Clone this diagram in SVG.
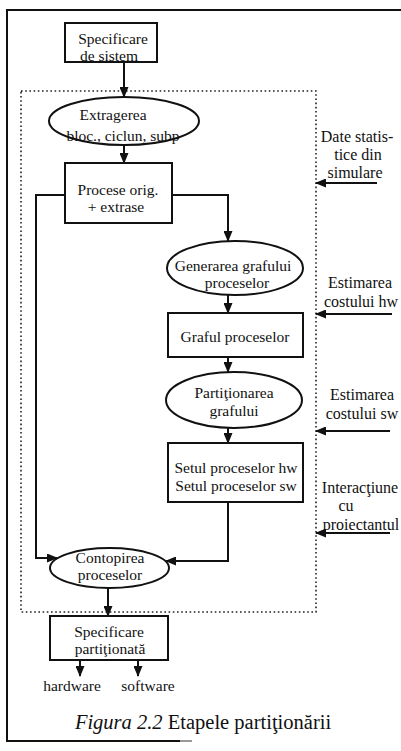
<svg xmlns="http://www.w3.org/2000/svg" width="401" height="751" viewBox="0 0 401 751">
  <style>
    .t { font-family: "Liberation Serif", "Times New Roman", serif; font-size: 15.5px; fill: #111; text-anchor: middle; }
    .side { font-family: "Liberation Serif", "Times New Roman", serif; font-size: 16px; fill: #111; text-anchor: middle; }
    .cap { font-family: "Liberation Serif", "Times New Roman", serif; font-size: 20.5px; fill: #111; text-anchor: middle; }
    .shape { fill: #fff; stroke: #111; stroke-width: 2; }
    .wire { fill: none; stroke: #111; stroke-width: 2; }
    .dots { fill: none; stroke: #222; stroke-width: 1.6; stroke-dasharray: 1.6 2.6; }
    .frame { fill: none; stroke: #111; stroke-width: 2; }
  </style>
  <defs>
    <marker id="arrow" markerUnits="userSpaceOnUse" markerWidth="11" markerHeight="9" refX="10" refY="4.5" orient="auto">
      <path d="M0,0 L11,4.5 L0,9 z" fill="#111"/>
    </marker>
  </defs>

  <rect width="401" height="751" fill="#fff"/>

  <!-- page frame (open on the right) -->
  <polyline class="frame" points="401,10 7,10 7,741 180,741"/>
  <line x1="180" y1="741" x2="192" y2="741" stroke="#999" stroke-width="2"/>

  <!-- dotted boundary of the partitioning stage -->
  <rect id="boundary" class="dots" x="21" y="91" width="295" height="521"/>

  <!-- connectors -->
  <g id="connectors">
    <line class="wire" x1="124" y1="62" x2="124" y2="97" marker-end="url(#arrow)"/>
    <line class="wire" x1="124" y1="145" x2="124" y2="163" marker-end="url(#arrow)"/>
    <polyline class="wire" points="65,195 36,195 36,558 57,558" marker-end="url(#arrow)"/>
    <polyline class="wire" points="172,195 228,195 228,241" marker-end="url(#arrow)"/>
    <line class="wire" x1="228" y1="295" x2="228" y2="313" marker-end="url(#arrow)"/>
    <line class="wire" x1="228" y1="357" x2="228" y2="372" marker-end="url(#arrow)"/>
    <line class="wire" x1="228" y1="428" x2="228" y2="443" marker-end="url(#arrow)"/>
    <polyline class="wire" points="228,502 228,561 166,561" marker-end="url(#arrow)"/>
    <line class="wire" x1="108" y1="588" x2="108" y2="616" marker-end="url(#arrow)"/>
    <line class="wire" x1="80" y1="660" x2="80" y2="676" marker-end="url(#arrow)"/>
    <line class="wire" x1="138" y1="660" x2="138" y2="676" marker-end="url(#arrow)"/>
    <line class="wire" x1="377" y1="183" x2="316" y2="183" marker-end="url(#arrow)"/>
    <line class="wire" x1="392" y1="314" x2="316" y2="314" marker-end="url(#arrow)"/>
    <line class="wire" x1="390" y1="431" x2="316" y2="431" marker-end="url(#arrow)"/>
    <line class="wire" x1="390" y1="533" x2="316" y2="533" marker-end="url(#arrow)"/>
  </g>

  <!-- nodes -->
  <g id="spec-sistem">
    <rect class="shape" x="65" y="23" width="92" height="39"/>
    <text class="t" x="113" y="44">Specificare</text>
    <text class="t" x="109" y="60.5">de sistem</text>
  </g>

  <g id="extragerea">
    <ellipse class="shape" cx="124" cy="121" rx="75" ry="24"/>
    <text class="t" x="113" y="120">Extragerea</text>
    <text class="t" x="123" y="141">bloc., ciclun, subp</text>
  </g>

  <g id="procese">
    <rect class="shape" x="65" y="163" width="107" height="60"/>
    <text class="t" x="118" y="195">Procese  orig.</text>
    <text class="t" x="116" y="212">+ extrase</text>
  </g>

  <g id="generarea">
    <ellipse class="shape" cx="235" cy="268" rx="68" ry="27"/>
    <text class="t" x="233" y="271">Generarea grafului</text>
    <text class="t" x="237" y="288">proceselor</text>
  </g>

  <g id="graful">
    <rect class="shape" x="168" y="313" width="135" height="44"/>
    <text class="t" x="235" y="342">Graful proceselor</text>
  </g>

  <g id="partitionarea">
    <ellipse class="shape" cx="234" cy="400" rx="68" ry="28"/>
    <text class="t" x="234" y="398">Partiţionarea</text>
    <text class="t" x="234" y="416">grafului</text>
  </g>

  <g id="setul">
    <rect class="shape" x="168" y="443" width="135" height="59"/>
    <text class="t" x="236" y="473">Setul proceselor hw</text>
    <text class="t" x="236" y="491">Setul proceselor sw</text>
  </g>

  <g id="contopirea">
    <ellipse class="shape" cx="109.5" cy="568" rx="59.5" ry="20"/>
    <text class="t" x="110" y="563">Contopirea</text>
    <text class="t" x="110" y="580">proceselor</text>
  </g>

  <g id="spec-partitionata">
    <rect class="shape" x="50" y="616" width="118" height="44"/>
    <text class="t" x="109" y="637">Specificare</text>
    <text class="t" x="110" y="654">partiţionată</text>
  </g>

  <!-- outputs -->
  <g id="outputs">
    <text class="t" x="72" y="691">hardware</text>
    <text class="t" x="148" y="691">software</text>
  </g>

  <!-- external inputs -->
  <g id="inputs">
    <text class="side" x="357" y="142">Date statis-</text>
    <text class="side" x="358" y="160">tice din</text>
    <text class="side" x="355" y="178">simulare</text>
    <text class="side" x="360" y="288">Estimarea</text>
    <text class="side" x="361" y="307">costului hw</text>
    <text class="side" x="362" y="400">Estimarea</text>
    <text class="side" x="362" y="419">costului sw</text>
    <text class="side" x="360" y="493">Interacţiune</text>
    <text class="side" x="346" y="511">cu</text>
    <text class="side" x="361" y="530">proiectantul</text>
  </g>

  <!-- caption -->
  <text class="cap" x="203" y="729"><tspan font-style="italic">Figura 2.2</tspan> Etapele partiţionării</text>
</svg>
